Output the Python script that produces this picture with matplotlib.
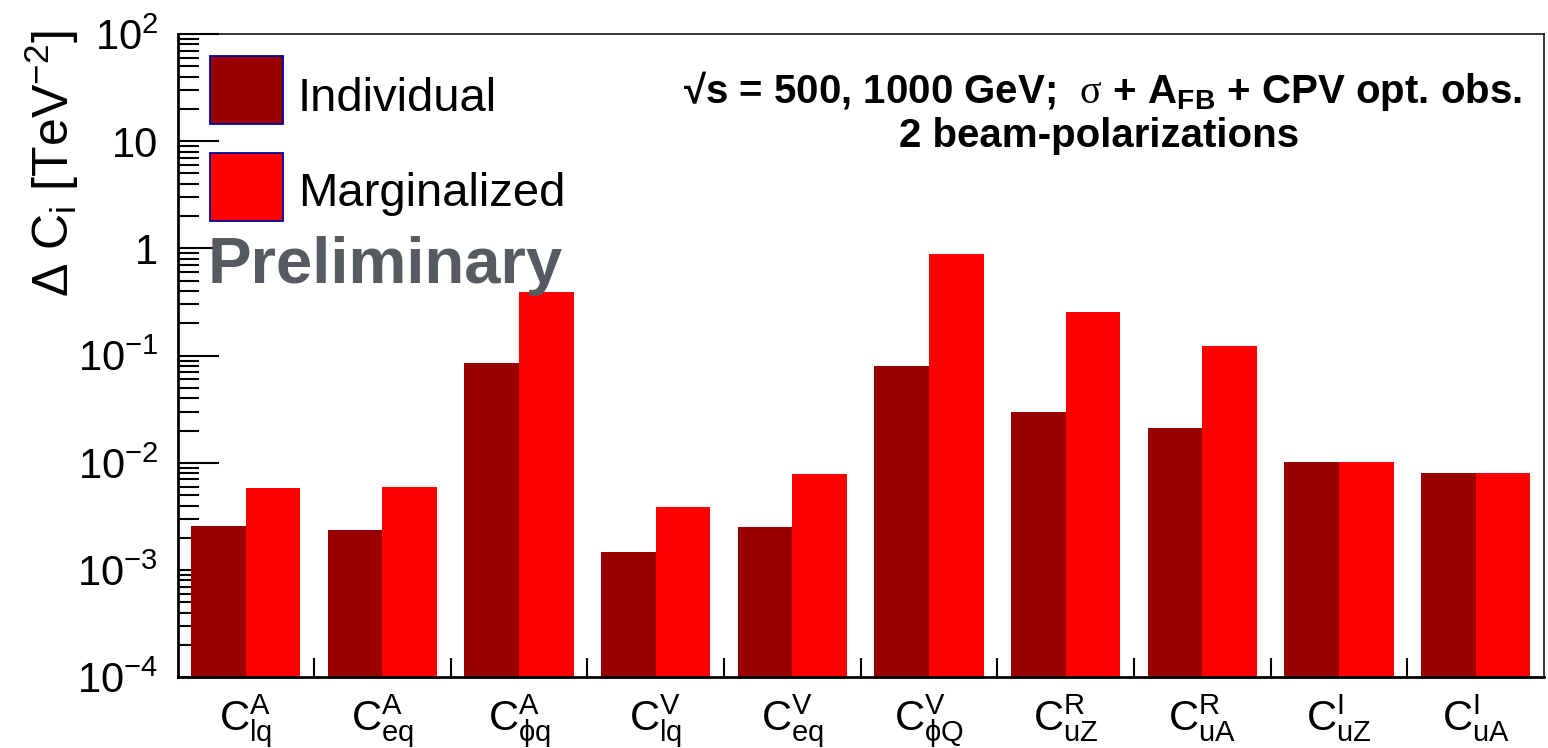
import numpy as np
import matplotlib
matplotlib.use("Agg")
import matplotlib.pyplot as plt
from matplotlib.patches import Rectangle
from matplotlib.ticker import LogLocator, NullFormatter

plt.rcParams['font.family'] = ['Liberation Sans', 'DejaVu Sans']
plt.rcParams['mathtext.fontset'] = 'custom'
plt.rcParams['mathtext.rm'] = 'Liberation Sans'
plt.rcParams['mathtext.it'] = 'Liberation Sans:italic'
plt.rcParams['mathtext.bf'] = 'Liberation Sans:bold'
plt.rcParams['mathtext.sf'] = 'Liberation Serif'

# operators and their 1-sigma limits [TeV^-2]
operators = [r"$\mathrm{C}^{\mathrm{A}}_{\mathrm{lq}}$",
             r"$\mathrm{C}^{\mathrm{A}}_{\mathrm{eq}}$",
             r"$\mathrm{C}^{\mathrm{A}}_{\mathrm{\phi q}}$",
             r"$\mathrm{C}^{\mathrm{V}}_{\mathrm{lq}}$",
             r"$\mathrm{C}^{\mathrm{V}}_{\mathrm{eq}}$",
             r"$\mathrm{C}^{\mathrm{V}}_{\mathrm{\phi Q}}$",
             r"$\mathrm{C}^{\mathrm{R}}_{\mathrm{uZ}}$",
             r"$\mathrm{C}^{\mathrm{R}}_{\mathrm{uA}}$",
             r"$\mathrm{C}^{\mathrm{I}}_{\mathrm{uZ}}$",
             r"$\mathrm{C}^{\mathrm{I}}_{\mathrm{uA}}$"]
individual = [2.6e-3, 2.35e-3, 0.085, 1.47e-3, 2.5e-3, 0.080, 0.030, 0.021, 0.0101, 0.0080]
marginalized = [5.8e-3, 6.0e-3, 0.39, 3.9e-3, 7.8e-3, 0.88, 0.254, 0.122, 0.0101, 0.0080]

ytick_vals = [1e-4, 1e-3, 1e-2, 1e-1, 1, 10, 100]
ytick_text = [r"$10^{-4}$", r"$10^{-3}$", r"$10^{-2}$", r"$10^{-1}$", "1", "10", r"$10^{2}$"]

W, H = 1548, 748
fig = plt.figure(figsize=(W / 100, H / 100), dpi=100)
ax = fig.add_axes([177.5 / W, 1 - 677.3 / H, (1544 - 177.5) / W, (677.3 - 34) / H])

n = len(operators)
idx = np.arange(n)
ax.bar(idx + 0.3, individual, width=0.4, color='#990000', linewidth=0, zorder=2)
ax.bar(idx + 0.7, marginalized, width=0.4, color='#ff0000', linewidth=0, zorder=2)

ax.set_yscale('log')
ax.set_ylim(1e-4, 1e2)
ax.set_xlim(0, n)

# y axis: ROOT-like inside ticks
ax.set_yticks(ytick_vals, ytick_text)
ax.yaxis.set_minor_locator(LogLocator(base=10, subs=np.arange(2, 10)))
ax.yaxis.set_minor_formatter(NullFormatter())
ax.tick_params(axis='y', which='major', direction='in', length=29.5, width=1.5,
               labelsize=30, pad=14, right=False)
ax.tick_params(axis='y', which='minor', direction='in', length=15, width=1.5, right=False)
for t in ax.get_yticklabels():
    t.set_va('center_baseline')

# x axis: ticks on bin edges, labels on bin centres
ax.set_xticks(np.arange(1, n), [''] * (n - 1))
ax.set_xticks(idx + 0.5, operators, minor=True)
ax.tick_params(axis='x', which='major', direction='in', length=13.5, width=1.5, top=False)
ax.tick_params(axis='x', which='minor', length=0, labelsize=30, pad=11, top=False)

for s in ['left', 'bottom']:
    ax.spines[s].set_linewidth(2)
for s in ['top', 'right']:
    ax.spines[s].set_linewidth(1.1)
for s in ax.spines.values():
    s.set_zorder(3)

fig.text(52 / W, 1 - 30 / H, r"Δ C$_{\mathrm{i}}$ [TeV$^{\mathrm{-2}}$]", rotation=90,
         ha='center', va='top', fontsize=36)

# legend boxes
boxes = [(56, '#990000', 'Individual', 110.7), (152.7, '#ff0000', 'Marginalized', 206)]
for top, col, lab, base in boxes:
    fig.add_artist(Rectangle((210 / W, 1 - (top + 68) / H), 73 / W, 68 / H,
                             transform=fig.transFigure, facecolor=col,
                             edgecolor='#0000a0', linewidth=1.3))
    fig.text(298 / W, 1 - base / H, lab, fontsize=34, va='baseline', ha='left')

fig.text(208 / W, 1 - 283 / H, "Preliminary", fontsize=47, fontweight='bold',
         color='#575b61', va='baseline', ha='left')

fig.text(1103 / W, 1 - 103 / H,
         r"√s = 500, 1000 GeV;  $\mathsf{\sigma}$ + A$_{\mathbf{FB}}$ + CPV opt. obs.",
         fontsize=29, fontweight='bold', ha='center', va='baseline')
fig.text(1099 / W, 1 - 147 / H, "2 beam-polarizations",
         fontsize=29, fontweight='bold', ha='center', va='baseline')

fig.savefig("out.png", dpi=100)
